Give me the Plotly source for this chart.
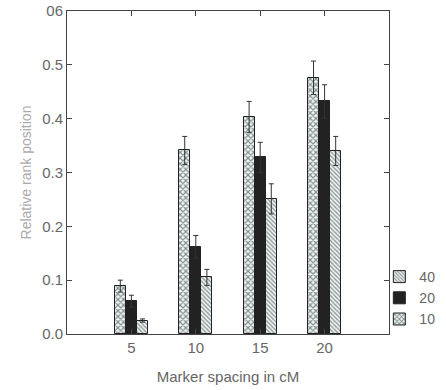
import plotly.graph_objects as go

categories = [5, 10, 15, 20]
series_names = ["10", "20", "40"]
values_10 = [0.089, 0.341, 0.403, 0.476]
err_10 = [0.011, 0.026, 0.029, 0.031]
values_20 = [0.061, 0.162, 0.328, 0.432]
err_20 = [0.011, 0.021, 0.028, 0.031]
values_40 = [0.025, 0.105, 0.251, 0.340]
err_40 = [0.003, 0.015, 0.028, 0.027]
y_ticks = [0, 0.1, 0.2, 0.3, 0.4, 0.5, 0.6]
y_ticktext = ["0.0", "0.1", "0.2", "0.3", "0.4", "0.5", "06"]

bar_w = 0.86
offsets = [-bar_w, 0, bar_w]
patterns = [
    dict(shape="x", fgcolor="#222", bgcolor="#eef8f8", size=4, solidity=0.5),
    dict(shape="", fgcolor="#222", bgcolor="#222"),
    dict(shape="\\", fgcolor="#333", bgcolor="#eef8f8", size=3, solidity=0.45),
]
fills = ["#eef8f8", "#222", "#eef8f8"]

fig = go.Figure()
for name, vals, errs, off, pat, fc in zip(series_names, [values_10, values_20, values_40],
                                          [err_10, err_20, err_40], offsets, patterns, fills):
    fig.add_trace(go.Bar(
        x=[c + off for c in categories], y=vals, width=bar_w, name=name,
        marker=dict(color=fc, pattern=pat, line=dict(color="#222", width=1)),
        error_y=dict(type="data", array=errs, color="#333", thickness=1, width=2.5),
    ))

fig.update_layout(
    width=446, height=390,
    margin=dict(l=67, r=57, t=11, b=56, autoexpand=False),
    plot_bgcolor="white", paper_bgcolor="white",
    barmode="overlay", bargap=0,
    font=dict(family="Liberation Sans, Arial, sans-serif", size=15, color="#666"),
    showlegend=True,
    legend=dict(x=0.97, y=0.226, xanchor="left", yanchor="top", traceorder="reversed",
                font=dict(size=14, color="#666"), itemwidth=30,
                bgcolor="rgba(0,0,0,0)"),
    xaxis=dict(range=[0, 25], tickvals=categories, ticktext=[str(c) for c in categories],
               showline=True, linecolor="#444", linewidth=1, mirror="ticks",
               ticks="inside", ticklen=5, tickcolor="#444", showgrid=False, zeroline=False,
               tickfont=dict(size=15, color="#666"),
               title=dict(text="Marker spacing in cM", font=dict(size=15, color="#666"), standoff=16)),
    yaxis=dict(range=[0, 0.6], tickvals=y_ticks, ticktext=y_ticktext,
               showline=True, linecolor="#444", linewidth=1, mirror="ticks",
               ticks="inside", ticklen=5, tickcolor="#444", showgrid=False, zeroline=False,
               tickfont=dict(size=15, color="#666"),
               title=dict(text="Relative rank position", font=dict(size=14, color="#aaa"), standoff=7)),
)

fig.write_html("out.html", config={"displayModeBar": False},
               post_script="document.body.style.margin='0';")
